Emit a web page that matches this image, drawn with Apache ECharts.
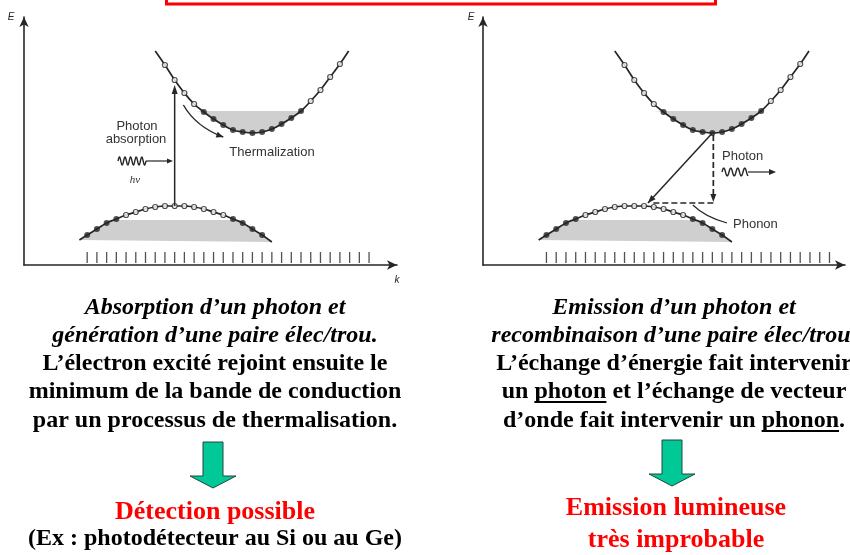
<!DOCTYPE html>
<html><head><meta charset="utf-8">
<script src="https://cdn.jsdelivr.net/npm/echarts@6/dist/echarts.min.js"></script>
<style>html,body{margin:0;padding:0;background:#fff;overflow:hidden}#c{width:850px;height:555px}</style>
</head><body><div id="c"></div>
<script>
// ---------------- data (k in tick units, E in arbitrary energy units) ----------------
const tickK = [6.5,7.5,8.5,9.5,10.5,11.5,12.5,13.5,14.5,15.5,16.5,17.5,18.5,19.5,20.5,21.5,22.5,23.5,24.5,25.5,26.5,27.5,28.5,29.5,30.5,31.5,32.5,33.5,34.5,35.5];

// conduction band
const cbK = [13.5,14.5,15.5,16.5,17.5,18.5,19.5,20.5,21.5,22.5,23.5,24.5,25.5,26.5,27.5,28.5,29.5,30.5,31.5,32.5,33.4];
const cbE = [21.4,20.0,18.5,17.2,16.1,15.3,14.6,14.0,13.5,13.3,13.2,13.3,13.6,14.1,14.7,15.4,16.4,17.5,18.8,20.1,21.4];
const cbState = ['e','o','o','o','o','f','f','f','f','f','f','f','f','f','f','f','o','o','o','o','e'];
const cbFillTop = 15.4;

// valence band
const vbK = [5.7,6.5,7.5,8.5,9.5,10.5,11.5,12.5,13.5,14.5,15.5,16.5,17.5,18.5,19.5,20.5,21.5,22.5,23.5,24.5,25.5];
const vbE = [2.5,3.0,3.6,4.2,4.6,5.0,5.3,5.6,5.8,5.9,5.9,5.9,5.8,5.6,5.3,5.0,4.6,4.2,3.6,3.0,2.3];
const vbState = ['e','f','f','f','f','o','o','o','o','o','o','o','o','o','o','o','f','f','f','f','e'];
const vbFillTop = 4.5;

// transitions (left: absorption, right: emission)
const absorptionArrow = [[15.5,5.9],[15.5,18.0]];
const thermalArrow = [[16.4,16.0],[17.7,13.8],[20.5,12.8]];   // start, control, end
const recombArrow = [[23.5,13.2],[16.9,6.2]];
const photonDrop = [[23.6,13.0],[23.6,6.3]];
const phononStep = [[23.6,6.2],[17.2,6.2]];
const phononLeader = [[21.5,6.0],[22.75,4.8],[25.0,4.2]];

// texts
const leftLines = ['Absorption d’un photon et','génération d’une paire élec/trou.','L’électron excité rejoint ensuite le','minimum de la bande de conduction','par un processus de thermalisation.'];
const rightLines = ['Emission d’un photon et','recombinaison d’une paire élec/trou.','L’échange d’énergie fait intervenir','un photon et l’échange de vecteur','d’onde fait intervenir un phonon.'];
const leftResult = ['Détection possible'];
const leftNote = '(Ex : photodétecteur au Si ou au Ge)';
const rightResult = ['Emission lumineuse','très improbable'];

// ---------------- drawing ----------------
const ink = '#262626';
const fillColor = '#cfcfcf';
const bodyFont = 'bold 24px "Liberation Serif"';
const italicFont = 'italic bold 24px "Liberation Serif"';
const redFont = 'bold 26px "Liberation Serif"';
const sansFont = '13px "Liberation Sans"';

const chart = echarts.init(document.getElementById('c'), null, {renderer:'canvas'});

function pts(ks, es){ return ks.map((k,i)=>[k,es[i]]); }
function byState(ks, es, st, s){ return ks.map((k,i)=>[k,es[i],st[i]]).filter(d=>d[2]===s).map(d=>[d[0],d[1]]); }

function head(tip, from, L, W){
  const dx=tip[0]-from[0], dy=tip[1]-from[1], d=Math.hypot(dx,dy)||1;
  const ux=dx/d, uy=dy/d, bx=tip[0]-ux*L, by=tip[1]-uy*L;
  return {type:'polygon', shape:{points:[tip,[bx-uy*W,by+ux*W],[bx+uy*W,by-ux*W]]}, style:{fill:ink}};
}

function bandSeries(gi){
  return [
    {type:'custom', xAxisIndex:gi, yAxisIndex:gi, data:[[0,0]], silent:true, z:1,
      renderItem:(p,api)=>({type:'group', children:[
        {type:'polygon', shape:{points:cbK.map((k,i)=>api.coord([k,Math.min(cbE[i],cbFillTop)]))}, style:{fill:fillColor}},
        {type:'polygon', shape:{points:vbK.map((k,i)=>api.coord([k,Math.min(vbE[i],vbFillTop)]))}, style:{fill:fillColor}}
      ]})},
    {type:'line', xAxisIndex:gi, yAxisIndex:gi, data:pts(cbK,cbE), smooth:0.4, showSymbol:false, silent:true, z:3, lineStyle:{color:ink,width:1.7}},
    {type:'line', xAxisIndex:gi, yAxisIndex:gi, data:pts(vbK,vbE), smooth:0.4, showSymbol:false, silent:true, z:3, lineStyle:{color:ink,width:1.7}},
    {type:'scatter', xAxisIndex:gi, yAxisIndex:gi, silent:true, z:4, symbol:'circle', symbolSize:5,
      data:byState(cbK,cbE,cbState,'o').concat(byState(vbK,vbE,vbState,'o')),
      itemStyle:{color:'#fff', borderColor:ink, borderWidth:1.2}},
    {type:'scatter', xAxisIndex:gi, yAxisIndex:gi, silent:true, z:4, symbol:'circle', symbolSize:6,
      data:byState(cbK,cbE,cbState,'f').concat(byState(vbK,vbE,vbState,'f')),
      itemStyle:{color:ink}},
    {type:'scatter', xAxisIndex:gi, yAxisIndex:gi, silent:true, z:4, symbol:'rect', symbolSize:[1.3,11],
      data:tickK.map(k=>[k,0.75]), itemStyle:{color:ink}}
  ];
}

const leftAnnot = {type:'custom', xAxisIndex:0, yAxisIndex:0, data:[[0,0]], silent:true, z:5,
  renderItem:(p,api)=>{
    const a0=api.coord(absorptionArrow[0]), a1=api.coord(absorptionArrow[1]);
    const t0=api.coord(thermalArrow[0]), tc=api.coord(thermalArrow[1]), t1=api.coord(thermalArrow[2]);
    return {type:'group', children:[
      {type:'line', shape:{x1:a0[0],y1:a0[1],x2:a1[0],y2:a1[1]+6}, style:{stroke:ink,lineWidth:1.5}},
      head(a1,a0,9,3),
      {type:'bezierCurve', shape:{x1:t0[0],y1:t0[1],cpx1:tc[0],cpy1:tc[1],x2:t1[0],y2:t1[1]}, style:{stroke:ink,lineWidth:1.4,fill:null}},
      head(t1,tc,7,3)
    ]};
  }};

const rightAnnot = {type:'custom', xAxisIndex:1, yAxisIndex:1, data:[[0,0]], silent:true, z:5,
  renderItem:(p,api)=>{
    const r0=api.coord(recombArrow[0]), r1=api.coord(recombArrow[1]);
    const d0=api.coord(photonDrop[0]), d1=api.coord(photonDrop[1]);
    const s0=api.coord(phononStep[0]), s1=api.coord(phononStep[1]);
    const l0=api.coord(phononLeader[0]), lc=api.coord(phononLeader[1]), l1=api.coord(phononLeader[2]);
    return {type:'group', children:[
      {type:'line', shape:{x1:r0[0],y1:r0[1],x2:r1[0],y2:r1[1]}, style:{stroke:ink,lineWidth:1.5}},
      head(r1,r0,8,3),
      {type:'line', shape:{x1:d0[0],y1:d0[1],x2:d1[0],y2:d1[1]-5}, style:{stroke:ink,lineWidth:1.7,lineDash:[6,3]}},
      head(d1,d0,8,3),
      {type:'line', shape:{x1:s0[0],y1:s0[1],x2:s1[0],y2:s1[1]}, style:{stroke:ink,lineWidth:1.7,lineDash:[6,3]}},
      {type:'bezierCurve', shape:{x1:l0[0],y1:l0[1],cpx1:lc[0],cpy1:lc[1],x2:l1[0],y2:l1[1]}, style:{stroke:ink,lineWidth:1.1,fill:null}}
    ]};
  }};

function axisPair(gi, xmax){
  const line = {show:true, lineStyle:{color:ink,width:1.6}, symbol:['none','arrow'], symbolSize:[7,10]};
  return {
    x:{type:'value', gridIndex:gi, min:0, max:xmax, axisLine:line, axisTick:{show:false}, axisLabel:{show:false}, splitLine:{show:false}},
    y:{type:'value', gridIndex:gi, min:0, max:24.8, axisLine:line, axisTick:{show:false}, axisLabel:{show:false}, splitLine:{show:false}}
  };
}
const ax0 = axisPair(0, 373/9.72), ax1 = axisPair(1, 362/9.76);

// decorative glyphs (pixel space)
function wave(x0, x1, yc, period, amp){
  const p=[]; for(let x=x0;x<=x1;x+=0.5){ p.push([x, yc - amp*Math.sin(2*Math.PI*(x-x0)/period)]); } return p;
}

const ctx = document.createElement('canvas').getContext('2d');
function underline(line, word, cx, cy){
  ctx.font = bodyFont;
  const Wd = ctx.measureText(line).width;
  const i = line.indexOf(word);
  const x0 = cx - Wd/2 + ctx.measureText(line.slice(0,i)).width;
  const w = ctx.measureText(word).width;
  return {type:'line', shape:{x1:x0,y1:cy+10,x2:x0+w,y2:cy+10}, style:{stroke:'#000',lineWidth:1.8}};
}
function txt(s, x, y, font, fill, align){
  return {type:'text', x:x, y:y, style:{text:s, font:font, fill:fill, align:align||'center', verticalAlign:'middle', textAlign:align||'center', textVerticalAlign:'middle'}};
}
function greenArrow(cx, top, neck, tip){
  return {type:'polygon', shape:{points:[[cx-10,top],[cx+10,top],[cx+10,neck],[cx+23,neck],[cx,tip],[cx-23,neck],[cx-10,neck]]},
    style:{fill:'#00c896', stroke:'#24463a', lineWidth:1}};
}

const lineY = [308,336,364,392,421];
const graphics = [
  {type:'rect', shape:{x:166.5,y:-20,width:549,height:24}, style:{fill:'none',stroke:'#ff0000',lineWidth:3}},
  txt('E', 11, 17, 'italic 10px "Liberation Sans"', ink),
  txt('E', 471, 17, 'italic 10px "Liberation Sans"', ink),
  txt('k', 397, 280, 'italic 10px "Liberation Sans"', ink),
  txt('Photon', 137, 126, sansFont, '#333'),
  txt('absorption', 136, 139, sansFont, '#333'),
  txt('hν', 135, 180, 'italic 11px "Liberation Serif"', '#333'),
  txt('Thermalization', 272, 152, sansFont, '#333'),
  txt('Photon', 722, 156, sansFont, '#333', 'left'),
  txt('Phonon', 733, 224, sansFont, '#333', 'left'),
  {type:'polyline', shape:{points:wave(118,146,161,5.6,4)}, style:{stroke:ink,lineWidth:1.4,fill:null}},
  {type:'line', shape:{x1:146,y1:161,x2:168,y2:161}, style:{stroke:ink,lineWidth:1.2}},
  head([173,161],[160,161],6,2.5),
  {type:'polyline', shape:{points:wave(722,748,172,7,4)}, style:{stroke:ink,lineWidth:1.4,fill:null}},
  {type:'line', shape:{x1:748,y1:172,x2:770,y2:172}, style:{stroke:ink,lineWidth:1.2}},
  head([776,172],[760,172],7,3),
  greenArrow(213,442,476,488),
  greenArrow(672,440,474,486)
];
leftLines.forEach((s,i)=>graphics.push(txt(s,215,lineY[i], i<2?italicFont:bodyFont,'#000')));
rightLines.forEach((s,i)=>graphics.push(txt(s,674,lineY[i], i<2?italicFont:bodyFont,'#000')));
graphics.push(underline(rightLines[3],'photon',674,lineY[3]));
graphics.push(underline(rightLines[4],'phonon',674,lineY[4]));
graphics.push(txt(leftResult[0],215,512,redFont,'#ff0000'));
graphics.push(txt(leftNote,215,539,bodyFont,'#000'));
graphics.push(txt(rightResult[0],676,508,redFont,'#ff0000'));
graphics.push(txt(rightResult[1],676,540,redFont,'#ff0000'));

chart.setOption({
  animation:false,
  backgroundColor:'#fff',
  grid:[
    {left:24, top:17, width:373, height:248},
    {left:483, top:17, width:362, height:248}
  ],
  xAxis:[ax0.x, ax1.x],
  yAxis:[ax0.y, ax1.y],
  series:[].concat(bandSeries(0), bandSeries(1), [leftAnnot, rightAnnot]),
  graphic:{elements:graphics}
});
</script>
</body></html>
